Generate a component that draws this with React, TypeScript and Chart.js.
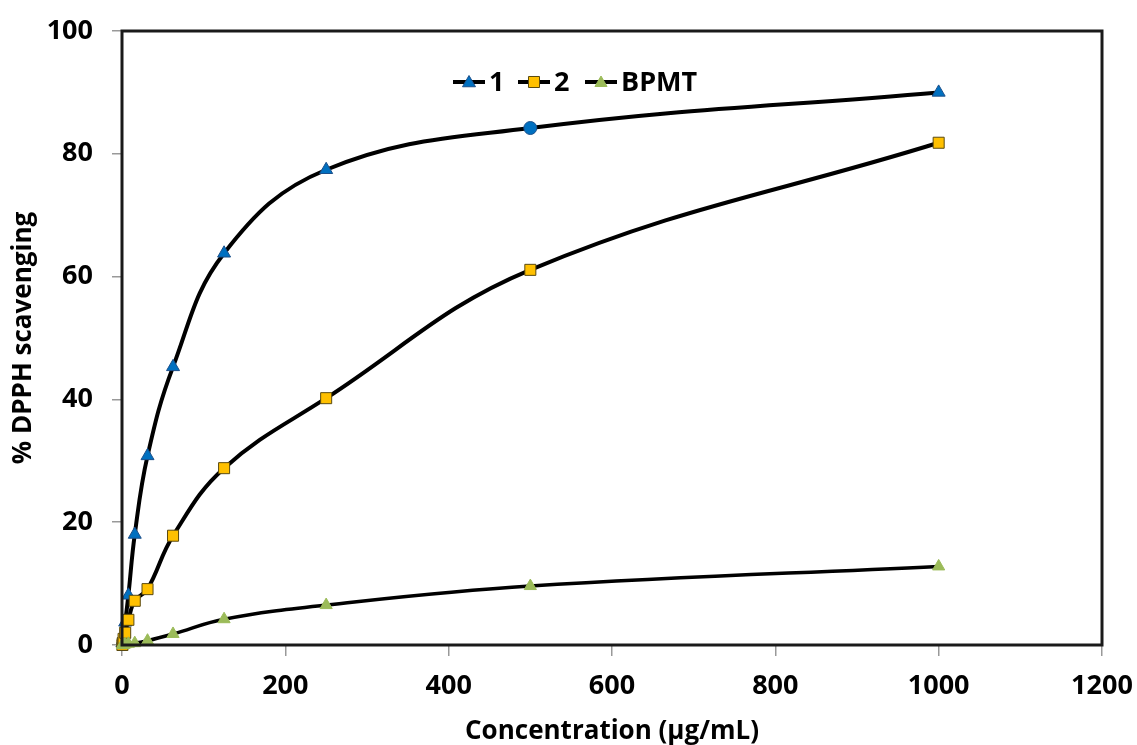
import React, { useEffect, useRef } from "react";
import { Chart, registerables } from "chart.js";

Chart.register(...registerables);

// ---- Data ----
const concentrations = [0.49, 0.98, 1.95, 3.9, 7.81, 15.63, 31.25, 62.5, 125, 250, 500, 1000];
const series1Values = [0.3, 0.8, 1.6, 3.7, 8.1, 18.0, 30.8, 45.3, 63.8, 77.4, 84.2, 90.0];
const series2Values = [0.0, 0.3, 1.0, 2.0, 4.1, 7.2, 9.1, 17.8, 28.8, 40.2, 61.1, 81.8];
const bpmtValues = [0.0, 0.0, 0.0, 0.1, 0.2, 0.3, 0.7, 1.8, 4.2, 6.5, 9.6, 12.8];
const seriesNames = ["1", "2", "BPMT"];
const xAxisTitle = "Concentration (µg/mL)";
const yAxisTitle = "% DPPH scavenging";

const FONT = "'Open Sans'";
const BLUE = "#0070C0";
const YELLOW = "#FFC000";
const GREEN = "#9BBB59";

function toPoints(values: number[]) {
  return concentrations.map((c, i) => ({ x: c, y: values[i] }));
}

function drawMarker(ctx: CanvasRenderingContext2D, style: string, x: number, y: number, r: number, fill: string, stroke: string) {
  ctx.save();
  ctx.fillStyle = fill;
  ctx.strokeStyle = stroke;
  ctx.lineWidth = 1;
  ctx.beginPath();
  if (style === "triangle") {
    ctx.moveTo(x, y - r);
    ctx.lineTo(x + r * Math.sin(Math.PI / 3), y + r * 0.5);
    ctx.lineTo(x - r * Math.sin(Math.PI / 3), y + r * 0.5);
    ctx.closePath();
  } else {
    const s = Math.SQRT1_2 * r;
    ctx.rect(x - s, y - s, 2 * s, 2 * s);
  }
  ctx.fill();
  ctx.stroke();
  ctx.restore();
}

const framePlugin = {
  id: "frameAndLegend",
  afterDraw(chart: any) {
    const { ctx, chartArea } = chart;
    ctx.save();
    ctx.strokeStyle = "#1a1a1a";
    ctx.lineWidth = 3;
    ctx.strokeRect(chartArea.left, chartArea.top, chartArea.right - chartArea.left, chartArea.bottom - chartArea.top);
    ctx.restore();

    // custom legend: line with marker + label
    const items = [
      { label: seriesNames[0], style: "triangle", r: 7.5, fill: BLUE, stroke: "#1b4f8a", x0: 453 },
      { label: seriesNames[1], style: "rect", r: 7.8, fill: YELLOW, stroke: "#5a4a10", x0: 518 },
      { label: seriesNames[2], style: "triangle", r: 7, fill: GREEN, stroke: GREEN, x0: 585 },
    ];
    const ly = 82;
    ctx.save();
    ctx.font = `bold 27px ${FONT}`;
    ctx.textBaseline = "middle";
    ctx.fillStyle = "#000";
    for (const it of items) {
      ctx.strokeStyle = "#000";
      ctx.lineWidth = 4;
      ctx.beginPath();
      ctx.moveTo(it.x0, ly);
      ctx.lineTo(it.x0 + 32, ly);
      ctx.stroke();
      drawMarker(ctx, it.style, it.x0 + 16, ly + (it.style === "triangle" ? 1 : 0), it.r, it.fill, it.stroke);
      ctx.fillText(it.label, it.x0 + 36, ly + 1);
    }
    ctx.restore();
  },
};

export default function App() {
  const canvasRef = useRef<HTMLCanvasElement | null>(null);

  useEffect(() => {
    document.body.style.margin = "0";
    const canvas = canvasRef.current;
    if (!canvas) return;

    const s1Styles = concentrations.map((c) => (c === 500 ? "circle" : "triangle"));
    const s1Radius = concentrations.map((c) => (c === 500 ? 6.5 : 7.5));

    const tickFont = { family: FONT, size: 27, weight: "bold" as const };
    const titleFont = { family: FONT, size: 26, weight: "bold" as const };

    const chart = new Chart(canvas, {
      type: "line",
      data: {
        datasets: [
          {
            label: seriesNames[0],
            data: toPoints(series1Values),
            borderColor: "#000",
            borderWidth: 4,
            tension: 0.4,
            pointStyle: s1Styles as any,
            pointRadius: s1Radius as any,
            pointBackgroundColor: BLUE,
            pointBorderColor: "#1b4f8a",
            pointBorderWidth: 1,
            clip: false as any,
            order: 3,
          },
          {
            label: seriesNames[1],
            data: toPoints(series2Values),
            borderColor: "#000",
            borderWidth: 4,
            tension: 0.4,
            pointStyle: "rect",
            pointRadius: 7.8,
            pointBackgroundColor: YELLOW,
            pointBorderColor: "#5a4a10",
            pointBorderWidth: 1,
            clip: false as any,
            order: 2,
          },
          {
            label: seriesNames[2],
            data: toPoints(bpmtValues),
            borderColor: "#000",
            borderWidth: 3.5,
            tension: 0.4,
            pointStyle: "triangle",
            pointRadius: 7,
            pointBackgroundColor: GREEN,
            pointBorderColor: GREEN,
            pointBorderWidth: 1,
            clip: false as any,
            order: 1,
          },
        ],
      },
      options: {
        responsive: false,
        animation: false,
        events: [],
        layout: { padding: { left: 0, top: 31, right: 35, bottom: 0 } },
        plugins: { legend: { display: false }, tooltip: { enabled: false } },
        scales: {
          x: {
            type: "linear",
            min: 0,
            max: 1200,
            border: { display: false },
            grid: { drawOnChartArea: false, drawTicks: true, tickLength: 11, color: "#999", lineWidth: 1.5 },
            ticks: {
              stepSize: 200,
              color: "#000",
              font: tickFont,
              padding: 14,
              maxRotation: 0,
              callback: (v: any) => String(v),
            },
            title: { display: true, text: xAxisTitle, color: "#000", font: titleFont, padding: { top: 0, bottom: -2 } },
            afterFit: (scale: any) => {
              scale.height = 100;
              scale.paddingLeft = 0;
              scale.paddingRight = 0;
            },
          },
          y: {
            min: 0,
            max: 100,
            border: { display: false },
            grid: { drawOnChartArea: false, drawTicks: true, tickLength: 10, color: "#999", lineWidth: 1.5 },
            ticks: { stepSize: 20, color: "#000", font: tickFont, padding: 19, callback: (v: any) => String(v) },
            title: { display: true, text: yAxisTitle, color: "#000", font: titleFont, padding: { top: 8, bottom: 0 } },
            afterFit: (scale: any) => {
              scale.width = 122;
              scale.paddingTop = 0;
              scale.paddingBottom = 0;
            },
          },
        },
      },
      plugins: [framePlugin],
    });

    return () => chart.destroy();
  }, []);

  return (
    <div style={{ position: "absolute", left: 0, top: 0, width: 1137, height: 745 }}>
      <canvas ref={canvasRef} width={1137} height={745} style={{ width: 1137, height: 745, display: "block" }} />
    </div>
  );
}
